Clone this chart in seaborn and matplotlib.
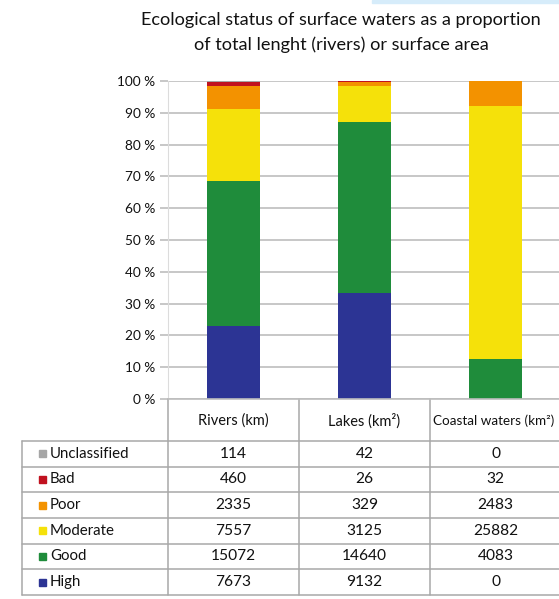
import numpy as np
import pandas as pd
import seaborn as sns
import matplotlib
matplotlib.use("Agg")
import matplotlib.pyplot as plt
from matplotlib.patches import Rectangle

# ---------------- data ----------------
categories = ["Rivers (km)", "Lakes (km²)", "Coastal waters (km²)"]
statuses = ["Unclassified", "Bad", "Poor", "Moderate", "Good", "High"]
unclassified = [114, 42, 0]
bad = [460, 26, 32]
poor = [2335, 329, 2483]
moderate = [7557, 3125, 25882]
good = [15072, 14640, 4083]
high = [7673, 9132, 0]
yticks = list(range(0, 101, 10))
ytick_labels = [f"{v} %" for v in yticks]

colors = {
    "Unclassified": "#a6a6a6",
    "Bad": "#c1121f",
    "Poor": "#f39200",
    "Moderate": "#f5e10a",
    "Good": "#1f8c3b",
    "High": "#2c3494",
}

table = pd.DataFrame([unclassified, bad, poor, moderate, good, high],
                     index=statuses, columns=categories)

sns.set_theme(style="white")
plt.rcParams["font.family"] = ["Lato", "DejaVu Sans"]

W, H = 559, 599
fig = plt.figure(figsize=(W / 100, H / 100), dpi=100)

def fx(px):
    return px / W

def fy(py):
    return 1 - py / H

# chart axes geometry (pixels)
left, right, top, bottom = 168, 561, 81, 399
ax = fig.add_axes([fx(left), fy(bottom), fx(right - left), (bottom - top) / H])

# percentages, stacked bottom->top: High, Good, Moderate, Poor, Bad, Unclassified
totals = table.sum(axis=0)
pct = table / totals * 100
stack_order = ["High", "Good", "Moderate", "Poor", "Bad", "Unclassified"]
cum = pct.loc[stack_order].cumsum(axis=0)

for status in reversed(stack_order):
    df = pd.DataFrame({"cat": categories, "val": cum.loc[status].values})
    sns.barplot(data=df, x="cat", y="val", color=colors[status], width=0.4,
                saturation=1, ax=ax, linewidth=0, zorder=3)

ax.set_xlim(-0.5, 2.5)
ax.set_ylim(0, 100)
ax.set_yticks(yticks)
ax.set_yticklabels(ytick_labels, fontsize=9.8, color="#111111")
ax.set_xticks([])
ax.set_xlabel("")
ax.set_ylabel("")
ax.yaxis.grid(True, color="#bdbdbd", linewidth=1.2, zorder=0)
ax.tick_params(axis="y", length=6, width=1.2, color="#bdbdbd", pad=3, left=True)
for s in ["top", "right", "bottom"]:
    ax.spines[s].set_visible(False)
ax.spines["left"].set_color("#dcdcdc")
ax.spines["left"].set_linewidth(0.8)

# title
fig.text(fx(341), fy(20), "Ecological status of surface waters as a proportion",
         ha="center", va="center", fontsize=13.1, color="#111111")
fig.text(fx(341), fy(45), "of total lenght (rivers) or surface area",
         ha="center", va="center", fontsize=13.1, color="#111111")

# light blue strip at top right
fig.patches.append(Rectangle((fx(372), fy(3)), fx(W - 372), 3 / H,
                             transform=fig.transFigure, color="#d6ecfa", zorder=0))

# ---------------- data table ----------------
tleft, tbot = 22, 595
tax = fig.add_axes([fx(tleft), fy(tbot), fx(right - tleft), (tbot - bottom) / H])
tax.set_xlim(tleft, right)
tax.set_ylim(tbot, bottom)
tax.axis("off")

col_edges = [168, 299, 430, 561]
header_bottom = 441
row_h = (tbot - header_bottom) / len(statuses)
row_edges = [header_bottom + i * row_h for i in range(len(statuses) + 1)]
line_c = "#a8a8a8"
lw = 1.1

# vertical lines
for x in col_edges[:-1]:
    tax.plot([x, x], [bottom, tbot], color=line_c, lw=lw, clip_on=False)
tax.plot([tleft, tleft], [header_bottom, tbot], color=line_c, lw=lw, clip_on=False)
# horizontal lines
tax.plot([col_edges[0], right], [bottom, bottom], color="#bdbdbd", lw=1.2, clip_on=False)
for y in row_edges:
    tax.plot([tleft, right], [y, y], color=line_c, lw=lw, clip_on=False)

# header (last one slightly smaller so it stays inside the picture)
header_sizes = [10.5, 10.5, 9.7]
for j, cat in enumerate(categories):
    cx = (col_edges[j] + col_edges[j + 1]) / 2
    if j == len(categories) - 1:
        tax.text(col_edges[j] + 3, (bottom + header_bottom) / 2 + 1, cat,
                 ha="left", va="center", fontsize=header_sizes[j], color="#111111")
    else:
        tax.text(cx, (bottom + header_bottom) / 2 + 1, cat, ha="center", va="center",
                 fontsize=header_sizes[j], color="#111111")

# rows
for i, status in enumerate(statuses):
    cy = row_edges[i] + row_h / 2
    tax.add_patch(Rectangle((39, cy - 3.5), 7, 7, color=colors[status], clip_on=False))
    tax.text(50, cy, status, ha="left", va="center", fontsize=10.8, color="#111111")
    for j, cat in enumerate(categories):
        cx = (col_edges[j] + col_edges[j + 1]) / 2
        tax.text(cx, cy, str(table.loc[status, cat]), ha="center", va="center",
                 fontsize=11.2, color="#111111")

fig.savefig("out.png", dpi=100)
